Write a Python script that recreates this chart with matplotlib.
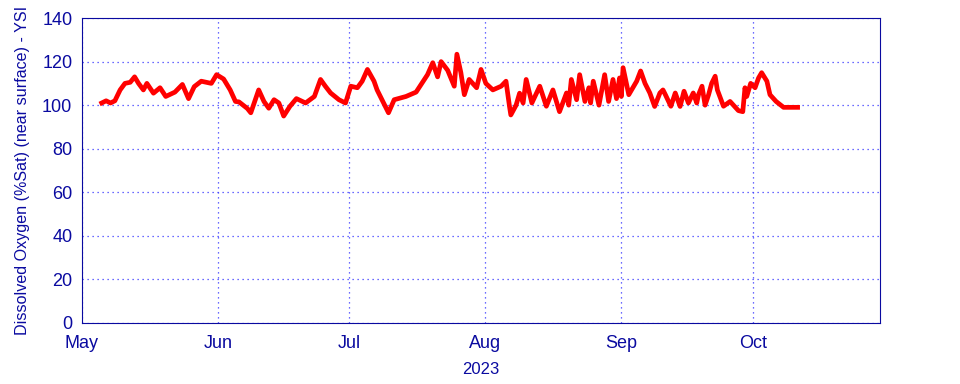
import matplotlib
matplotlib.use("Agg")
import matplotlib.pyplot as plt
import matplotlib.dates as mdates
import numpy as np
import pandas as pd

# days after 2023-05-01 00:00
day = [4.5, 5.5, 6.5, 7.5, 8.7, 9.8, 11.0, 12.0, 12.9, 14.0, 14.8, 16.3, 17.8, 19.1,
       21.2, 22.9, 24.3, 25.6, 27.2, 29.5, 30.7, 32.3, 33.8, 35.0,
       35.8, 37.7, 38.5, 40.3, 41.5, 42.6, 43.8, 44.9, 46.0, 47.4, 48.9, 51.0, 53.0,
       54.4, 55.5, 56.7, 58.6, 60.1, 61.3, 62.8, 63.9, 65.1, 66.6, 67.3,
       67.8, 69.9, 71.2, 73.9, 76.2, 77.5, 78.8, 80.0, 81.1, 81.9, 83.4, 84.9, 85.5,
       86.4, 87.2, 88.3, 90.0, 91.0, 92.1, 93.7, 95.6, 96.7, 97.5, 97.8, 99.0, 99.8,
       100.6, 101.3, 102.6, 104.4, 105.9, 107.4, 108.9, 110.5, 111.0, 111.6, 112.8,
       113.5, 114.7, 115.6, 116.0, 116.6, 117.9, 119.2, 120.1, 121.1, 121.9, 122.6,
       123.0, 123.4, 124.7, 126.5, 127.4, 128.4, 129.5, 130.6, 131.8, 132.5,
       133.0, 134.3, 135.3, 136.4, 137.3, 138.3, 139.4, 140.2, 140.6, 141.4, 142.1,
       142.9, 143.6, 144.4, 144.9, 146.3, 147.8, 149.7, 150.7, 151.2, 151.6, 152.5,
       153.5, 154.3, 155.0, 156.2, 156.9, 158.3, 160.0, 161.5, 163.2]
do_sat = [101.0, 102.0, 101.0, 102.0, 107, 110, 110.5, 113, 110, 107, 110, 105.5, 108, 104,
          106, 109.5, 103, 108.5, 111, 110, 114, 112, 107, 101.7,
          101.5, 98.5, 96.5, 107, 101.7, 98.6, 102.5, 101, 95, 99.4, 103, 101, 104,
          111.8, 108.7, 105.6, 102.5, 101, 108.7, 108, 111, 116.4, 111, 107,
          105, 96.5, 102.5, 104, 106, 110, 114, 119.5, 113, 120, 116, 108.7, 123.4,
          115, 104.8, 111.8, 108, 116.4, 110, 107, 108.7, 111, 99.4, 95.5, 100, 105.5,
          101, 111.8, 101, 108.7, 99.5, 107, 97, 105.6, 100, 111.8, 102.5,
          114, 101.7, 108, 101, 111, 100, 114, 101.7, 111.8, 103, 112.5,
          104, 117.2, 104.8, 111, 115.7, 110, 105.6, 99.4, 105.6, 107,
          105, 99.5, 105.6, 99.4, 106.4, 101, 105.6, 101, 104.8, 108.7, 100,
          104.8, 110, 113.3, 107, 99.5, 101.7, 97.5, 97, 108, 104, 110,
          108, 112.5, 114.9, 111, 104.8, 101.7, 99, 99, 99]

t0 = pd.Timestamp("2023-05-01")
t = t0 + pd.to_timedelta(np.array(day), unit="D")

blue = "#0a0aa0"
plt.rcParams["font.family"] = ["Liberation Sans", "DejaVu Sans"]

fig = plt.figure(figsize=(9.6, 3.84), dpi=100)
ax = fig.add_axes([0.0854, 0.159, 0.8313, 0.794])
ax.plot(t, do_sat, color="red", lw=3.4, solid_joinstyle="round")

ax.set_xlim(t0, pd.Timestamp("2023-10-30"))
ax.set_ylim(0, 140)
ax.set_yticks(range(0, 141, 20))
ax.xaxis.set_major_locator(mdates.MonthLocator())
ax.xaxis.set_major_formatter(mdates.DateFormatter("%b"))
ax.grid(True, color="#3a3aff", linestyle=(0, (1, 3)), lw=0.9)
ax.tick_params(length=0, labelsize=13, labelcolor=blue)
ax.tick_params(axis="x", pad=9)
ax.tick_params(axis="y", pad=7)
for s in ax.spines.values():
    s.set_color(blue)
ax.set_xlabel("2023", fontsize=12, color=blue, labelpad=7)
ax.set_ylabel("Dissolved Oxygen (%Sat) (near surface) - YSI", fontsize=11.6, color=blue, labelpad=9)

fig.savefig("out.png", dpi=100)
